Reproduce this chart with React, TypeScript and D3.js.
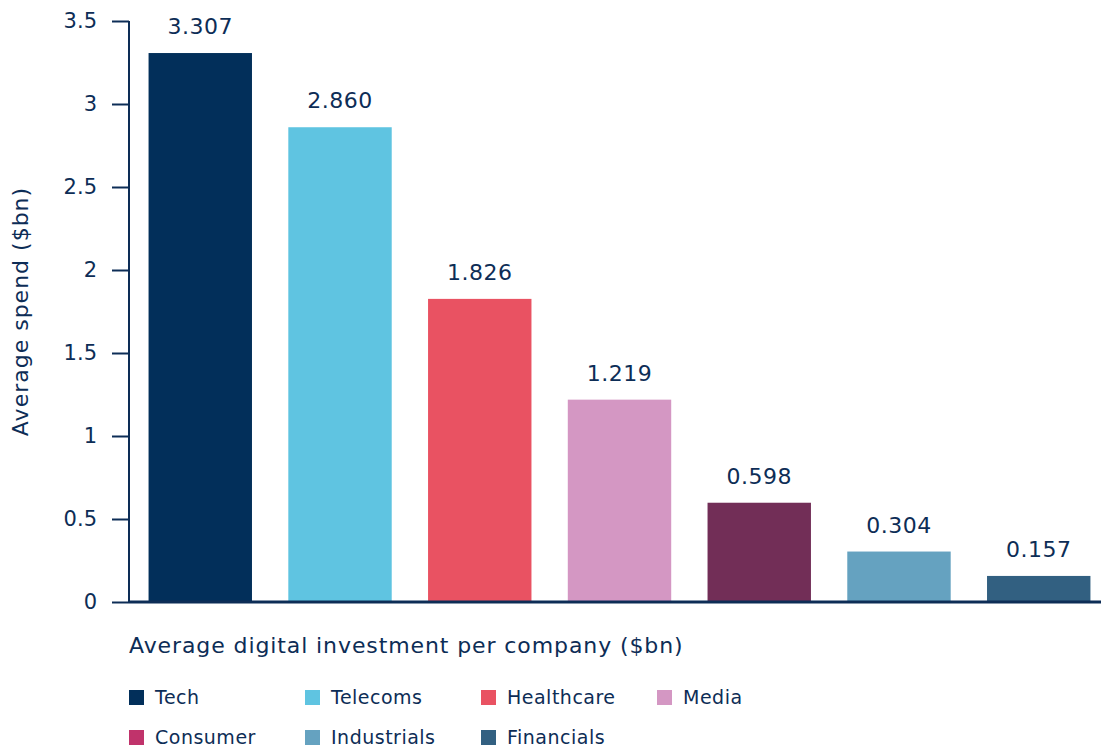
import React, { useEffect, useRef } from 'react';
import * as d3 from 'd3';

const categories = ['Tech', 'Telecoms', 'Healthcare', 'Media', 'Consumer', 'Industrials', 'Financials'];
const values = [3.307, 2.86, 1.826, 1.219, 0.598, 0.304, 0.157];
const valueLabels = ['3.307', '2.860', '1.826', '1.219', '0.598', '0.304', '0.157'];
const barColors = ['#022f5a', '#5fc4e1', '#e95262', '#d497c3', '#722e57', '#65a2c0', '#326081'];
const legendColors = ['#022f5a', '#5fc4e1', '#e95262', '#d497c3', '#c0336b', '#65a2c0', '#326081'];
const yTicks = [0, 0.5, 1, 1.5, 2, 2.5, 3, 3.5];
const yTickLabels = ['0', '0.5', '1', '1.5', '2', '2.5', '3', '3.5'];

const W = 1101;
const H = 747;
const TEXT = '#0d2d56';
const FONT = '"DejaVu Sans", sans-serif';

const App = () => {
  const ref = useRef<SVGSVGElement>(null);

  useEffect(() => {
    const svg = d3.select(ref.current);
    svg.selectAll('*').remove();

    const axisX = 129;
    const y = d3.scaleLinear().domain([0, 3.5]).range([602, 21]);
    const x = d3.scaleBand().domain(categories).range([axisX, 1110]).paddingInner(0.26).paddingOuter(0.14);

    const g = svg.append('g').style('font-family', FONT);

    // bars
    g.selectAll('rect.bar')
      .data(categories)
      .enter()
      .append('rect')
      .attr('class', 'bar')
      .attr('x', d => x(d)!)
      .attr('width', x.bandwidth())
      .attr('y', (d, i) => y(values[i]))
      .attr('height', (d, i) => y(0) - y(values[i]))
      .attr('fill', (d, i) => barColors[i]);

    // value labels
    g.selectAll('text.val')
      .data(categories)
      .enter()
      .append('text')
      .attr('class', 'val')
      .attr('x', d => x(d)! + x.bandwidth() / 2)
      .attr('y', (d, i) => y(values[i]) - 19)
      .attr('text-anchor', 'middle')
      .attr('fill', TEXT)
      .style('font-size', '22px')
      .style('letter-spacing', '0.5px')
      .text((d, i) => valueLabels[i]);

    // y axis
    const yAxis = d3.axisLeft(y)
      .tickValues(yTicks)
      .tickFormat((d, i) => yTickLabels[i])
      .tickSize(17)
      .tickPadding(15);
    const ya = g.append('g').attr('transform', `translate(${axisX},0)`).call(yAxis);
    ya.select('.domain').remove();
    ya.selectAll('line').attr('stroke', TEXT).attr('stroke-width', 2);
    ya.selectAll('text').attr('fill', TEXT).style('font-size', '21px').style('font-family', FONT);
    g.append('line')
      .attr('x1', axisX).attr('x2', axisX)
      .attr('y1', y(3.5)).attr('y2', y(0))
      .attr('stroke', TEXT).attr('stroke-width', 2);

    // x baseline
    g.append('line')
      .attr('x1', axisX).attr('x2', 1101)
      .attr('y1', y(0)).attr('y2', y(0))
      .attr('stroke', TEXT).attr('stroke-width', 3);

    // axis titles
    g.append('text')
      .attr('transform', `translate(28,${(y(0) + y(3.5)) / 2}) rotate(-90)`)
      .attr('text-anchor', 'middle')
      .attr('fill', TEXT)
      .style('font-size', '22px')
      .style('letter-spacing', '1px')
      .text('Average spend ($bn)');

    g.append('text')
      .attr('x', 129)
      .attr('y', 653)
      .attr('fill', TEXT)
      .style('font-size', '22px')
      .style('letter-spacing', '0.9px')
      .text('Average digital investment per company ($bn)');

    // legend
    const legend = g.selectAll('g.leg')
      .data(categories)
      .enter()
      .append('g')
      .attr('class', 'leg')
      .attr('transform', (d, i) => `translate(${129 + (i % 4) * 176},${i < 4 ? 697 : 737})`);
    legend.append('rect')
      .attr('x', 0).attr('y', -7)
      .attr('width', 15).attr('height', 15)
      .attr('fill', (d, i) => legendColors[i]);
    legend.append('text')
      .attr('x', 26).attr('y', 7)
      .attr('fill', TEXT)
      .style('font-size', '19px')
      .style('letter-spacing', '0.5px')
      .text(d => d);
  }, []);

  return (
    <svg
      ref={ref}
      width={W}
      height={H}
      style={{ position: 'absolute', left: 0, top: 0, background: '#fff' }}
    />
  );
};

export default App;
